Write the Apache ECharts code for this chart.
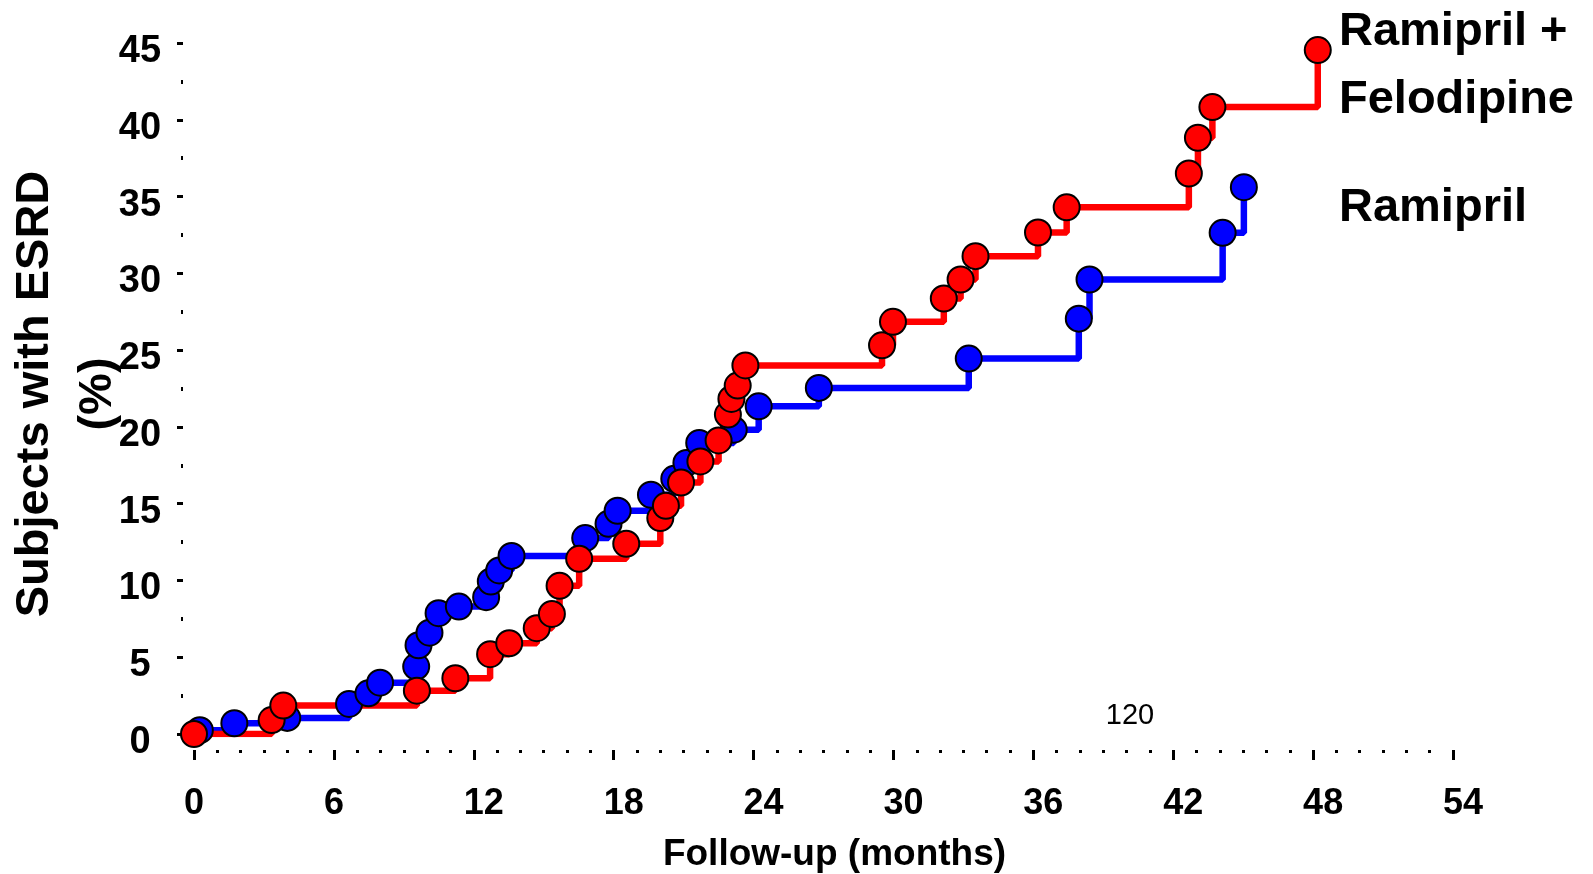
<!DOCTYPE html>
<html>
<head>
<meta charset="utf-8">
<script src="https://cdn.jsdelivr.net/npm/echarts@6/dist/echarts.min.js"></script>
<style>
  html, body { margin: 0; padding: 0; background: #fff; }
  #chart { width: 1593px; height: 874px; }
</style>
</head>
<body>
<div id="chart"></div>
<script>
// follow-up months and % with ESRD at each event
var ramiprilMonths = [0.25, 1.73, 4.0, 6.65, 7.48, 7.98, 9.53, 9.63, 10.1, 10.49, 11.36, 12.53, 12.73, 13.09, 13.62,
    16.78, 17.78, 18.17, 19.6, 20.6, 21.12, 21.67, 23.15, 24.22, 26.8, 33.23, 37.95, 38.41, 44.12, 45.03];
var ramiprilRates = [0.25, 0.7, 1.05, 1.96, 2.65, 3.34, 4.39, 5.78, 6.6, 7.87, 8.3, 8.91, 9.93, 10.65, 11.6,
    12.76, 13.69, 14.54, 15.58, 16.62, 17.65, 18.95, 19.82, 21.34, 22.54, 24.45, 27.05, 29.6, 32.64, 35.61];

var comboMonths = [0, 3.33, 3.83, 9.56, 11.21, 12.7, 13.52, 14.7, 15.35, 15.68, 16.52, 18.54, 20.0, 20.24, 20.89,
    21.72, 22.5, 22.9, 23.05, 23.32, 23.65, 29.51, 29.98, 32.16, 32.88, 33.52, 36.2, 37.43, 42.67, 43.06, 43.68, 48.2];
var comboRates = [0, 0.91, 1.85, 2.82, 3.63, 5.2, 5.91, 6.89, 7.82, 9.65, 11.41, 12.39, 14.06, 14.86, 16.38,
    17.75, 19.12, 20.8, 21.82, 22.69, 24.0, 25.31, 26.84, 28.36, 29.6, 31.12, 32.66, 34.3, 36.5, 38.83, 40.83, 44.54];

var xTicks = [0, 6, 12, 18, 24, 30, 36, 42, 48, 54];
var yTicks = [0, 5, 10, 15, 20, 25, 30, 35, 40, 45];

var seriesNames = ['Ramipril', 'Ramipril +\nFelodipine'];

function zip(xs, ys) {
    var out = [];
    for (var i = 0; i < xs.length; i++) {
        out.push([xs[i], ys[i]]);
    }
    return out;
}

var font = "'Liberation Sans', Arial, sans-serif";

function stepSeries(name, data, color) {
    return {
        type: 'line',
        name: name,
        data: data,
        step: 'end',
        symbol: 'circle',
        symbolSize: 26,
        lineStyle: { color: color, width: 6.5 },
        itemStyle: { color: color, borderColor: '#000', borderWidth: 2 }
    };
}

var myChart = echarts.init(document.getElementById('chart'));

var option = {
    animation: false,
    backgroundColor: '#fff',
    grid: {
        left: 194,
        right: 140,
        top: 43,
        bottom: 140,
        outerBoundsMode: 'none'
    },
    xAxis: {
        type: 'value',
        min: xTicks[0],
        max: xTicks[xTicks.length - 1],
        interval: xTicks[1] - xTicks[0],
        offset: 16,
        name: 'Follow-up (months)',
        nameLocation: 'middle',
        nameGap: 86,
        nameTextStyle: {
            fontFamily: font,
            fontWeight: 'bold',
            fontSize: 37,
            color: '#000',
            padding: [0, 0, 0, 22]
        },
        // dotted axis: no line, only month ticks
        axisLine: { show: false, onZero: false },
        axisTick: { show: true, length: 10, lineStyle: { color: '#000', width: 3 } },
        minorTick: { show: true, splitNumber: 6, length: 3, lineStyle: { color: '#000', width: 3 } },
        splitLine: { show: false },
        minorSplitLine: { show: false },
        axisLabel: {
            margin: 36,
            formatter: '{a|{value}}',
            rich: {
                a: {
                    width: 20,
                    align: 'left',
                    fontFamily: font,
                    fontWeight: 'bold',
                    fontSize: 36,
                    color: '#000'
                }
            }
        }
    },
    yAxis: {
        type: 'value',
        min: yTicks[0],
        max: yTicks[yTicks.length - 1],
        interval: yTicks[1] - yTicks[0],
        offset: 11,
        axisLine: { show: false, onZero: false },
        axisTick: { show: true, length: 6, lineStyle: { color: '#000', width: 3 } },
        minorTick: { show: true, splitNumber: 2, length: 2, lineStyle: { color: '#000', width: 4 } },
        splitLine: { show: false },
        minorSplitLine: { show: false },
        axisLabel: {
            margin: 43,
            align: 'center',
            // labels sit a little below their ticks
            verticalAlign: 'top',
            lineHeight: 17,
            fontFamily: font,
            fontWeight: 'bold',
            fontSize: 38,
            color: '#000'
        }
    },
    graphic: [
        {
            type: 'text',
            x: 67,
            y: 394,
            rotation: Math.PI / 2,
            style: {
                text: 'Subjects with ESRD\n(%)',
                fontFamily: font,
                fontWeight: 'bold',
                fontSize: 47,
                lineHeight: 63,
                fill: '#000',
                align: 'center',
                verticalAlign: 'middle'
            }
        },
        {
            type: 'text',
            left: 1339,
            top: -2,
            style: {
                text: seriesNames[1],
                fontFamily: font,
                fontWeight: 'bold',
                fontSize: 47,
                lineHeight: 68,
                fill: '#000'
            }
        },
        {
            type: 'text',
            left: 1339,
            top: 174,
            style: {
                text: seriesNames[0],
                fontFamily: font,
                fontWeight: 'bold',
                fontSize: 47,
                lineHeight: 68,
                fill: '#000'
            }
        },
        {
            type: 'text',
            x: 1130,
            y: 716,
            style: {
                text: '120',
                fontFamily: font,
                fontSize: 29,
                fill: '#000',
                align: 'center',
                verticalAlign: 'middle'
            }
        }
    ],
    series: [
        stepSeries(seriesNames[0], zip(ramiprilMonths, ramiprilRates), '#0000ff'),
        stepSeries(seriesNames[1], zip(comboMonths, comboRates), '#ff0000')
    ]
};

myChart.setOption(option);
</script>
</body>
</html>
